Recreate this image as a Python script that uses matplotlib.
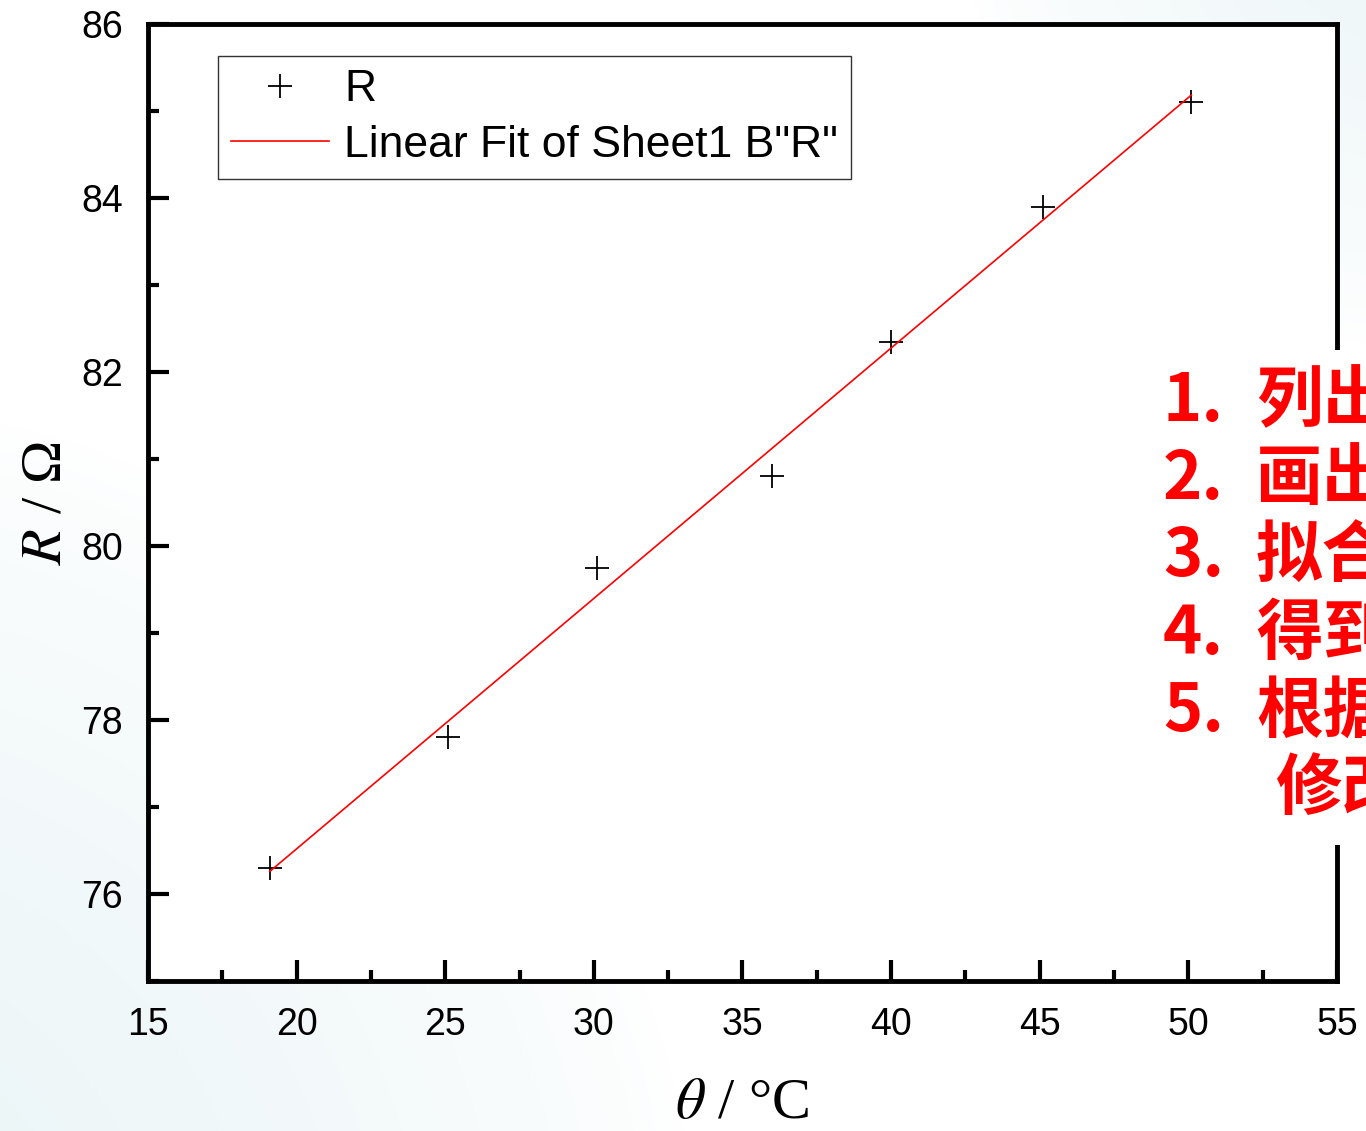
import numpy as np
import matplotlib.pyplot as plt
from matplotlib.ticker import MultipleLocator

# data
theta = [19.1, 25.1, 30.1, 36.0, 40.0, 45.1, 50.1]
R = [76.3, 77.8, 79.75, 80.8, 82.35, 83.9, 85.1]
step_nums = ["1.", "2.", "3.", "4.", "5.", ""]
step_words = ["列出", "画出", "拟合", "得到", "根据", "修改"]

plt.rcParams['font.family'] = ['Liberation Sans', 'DejaVu Sans']
plt.rcParams['mathtext.fontset'] = 'stix'

fig = plt.figure(figsize=(13.66, 11.31), dpi=100)

# soft bluish background in the corners
bg = fig.add_axes([0, 0, 1, 1], zorder=-10)
yy, xx = np.mgrid[0:1131, 0:1366]
d1 = np.hypot(xx + 200, yy - 1300) / 900.0
d2 = np.hypot(xx - 1450, yy + 150) / 500.0
shade = np.clip(1 - d1, 0, 1) ** 0.7 * 0.9 + np.clip(1 - d2, 0, 1) ** 0.7 * 0.8
shade = np.clip(shade, 0, 1)
img = np.ones((1131, 1366, 3))
base = np.array([0.90, 0.95, 0.96])
img = img * (1 - shade[..., None]) + base * shade[..., None]
bg.imshow(img, aspect='auto')
bg.axis('off')

ax = fig.add_axes([0.1083, 0.1326, 0.8705, 0.8462])
ax.set_facecolor('white')

ax.plot(theta, R, '+', color='black', markersize=17, markeredgewidth=1.3, label='R')

k, b = np.polyfit(theta, R, 1)
xf = np.array([min(theta), max(theta)])
ax.plot(xf, k * xf + b, color='red', linewidth=1.2, label='Linear Fit of Sheet1 B"R"')

ax.set_xlim(15, 55)
ax.set_ylim(75, 86)
ax.xaxis.set_major_locator(MultipleLocator(5))
ax.xaxis.set_minor_locator(MultipleLocator(2.5))
ax.yaxis.set_minor_locator(MultipleLocator(1))
ax.set_yticks([76, 78, 80, 82, 84, 86])

for s in ['left', 'bottom', 'right', 'top']:
    ax.spines[s].set_linewidth(3.5)
ax.tick_params(which='major', direction='in', length=15, width=3, labelsize=27)
ax.tick_params(which='minor', direction='in', length=8, width=3)
ax.tick_params(axis='x', pad=19)
ax.tick_params(axis='y', pad=18)

ax.set_xlabel(r'$\theta$ / °C', fontsize=42, family='Liberation Serif', labelpad=25)
ax.set_ylabel(r'$R$ / Ω', fontsize=42, family='Liberation Serif', labelpad=6)

leg = ax.legend(loc='upper left', bbox_to_anchor=(0.0589, 0.9666), fontsize=32,
                frameon=True, fancybox=False, edgecolor='black', handlelength=2.2,
                handletextpad=0.34, borderpad=0.3, labelspacing=0.33,
                borderaxespad=0)
leg.get_frame().set_linewidth(1.0)

# red annotation panel on the right, cut by the figure edge
fig.patches.append(plt.Rectangle((1142 / 1366, 1 - 845 / 1131), 0.2, 495 / 1131,
                                 transform=fig.transFigure, facecolor='white',
                                 edgecolor='none', zorder=5))
for i in range(len(step_words)):
    yf = 1 - (402 + i * 77.5) / 1131
    fig.text(1163 / 1366, yf, step_nums[i], color='red', fontsize=48,
             fontweight='bold', va='center', ha='left',
             family=['Noto Sans CJK SC', 'DejaVu Sans'], zorder=6)
    xw = 1256 if step_nums[i] else 1276
    fig.text(xw / 1366, yf, step_words[i], color='red', fontsize=48,
             fontweight='bold', va='center', ha='left',
             family=['Noto Sans CJK SC', 'DejaVu Sans'], zorder=6)

fig.savefig('out.png', dpi=100)
